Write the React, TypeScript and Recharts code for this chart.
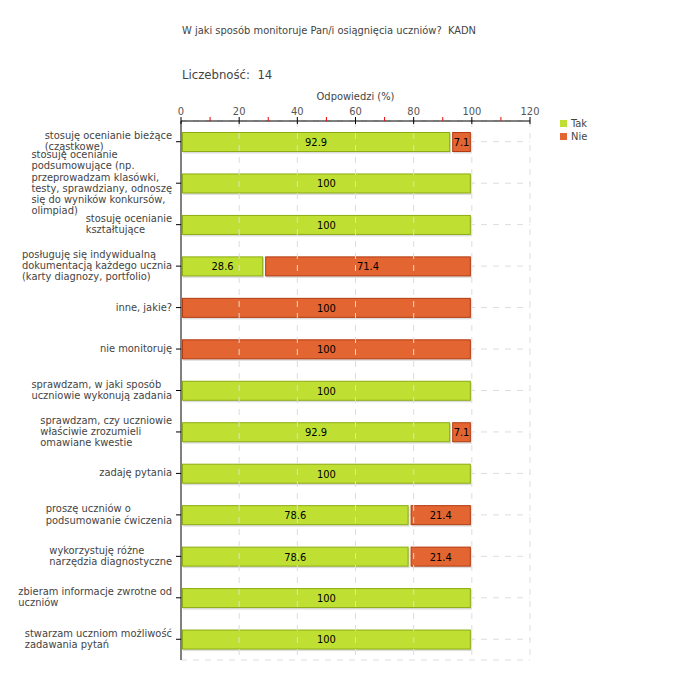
import { BarChart, Bar, XAxis, YAxis, CartesianGrid, ReferenceLine, LabelList } from "recharts";

const categories = [
  "stosuję ocenianie bieżące\n(cząstkowe)",
  "stosuję ocenianie\npodsumowujące (np.\nprzeprowadzam klasówki,\ntesty, sprawdziany, odnoszę\nsię do wyników konkursów,\nolimpiad)",
  "stosuję ocenianie\nkształtujące",
  "posługuję się indywidualną\ndokumentacją każdego ucznia\n(karty diagnozy, portfolio)",
  "inne, jakie?",
  "nie monitoruję",
  "sprawdzam, w jaki sposób\nuczniowie wykonują zadania",
  "sprawdzam, czy uczniowie\nwłaściwie zrozumieli\nomawiane kwestie",
  "zadaję pytania",
  "proszę uczniów o\npodsumowanie ćwiczenia",
  "wykorzystuję różne\nnarzędzia diagnostyczne",
  "zbieram informacje zwrotne od\nuczniów",
  "stwarzam uczniom możliwość\nzadawania pytań",
];
const tak = [92.9, 100, 100, 28.6, 0, 0, 100, 92.9, 100, 78.6, 78.6, 100, 100];
const nie = [7.1, 0, 0, 71.4, 100, 100, 0, 7.1, 0, 21.4, 21.4, 0, 0];
const allTicks = [0, 10, 20, 30, 40, 50, 60, 70, 80, 90, 100, 110, 120];
const gridTicks = [20, 40, 60, 80, 100, 120];

const data = categories.map((c, i) => ({ name: c, tak: tak[i], nie: nie[i] }));

const FONT = "'DejaVu Sans Condensed', 'DejaVu Sans', sans-serif";
const TAK = "#bfe033";
const TAK_EDGE = "#8cab12";
const NIE = "#e36531";
const NIE_EDGE = "#b23a10";

let ctx: CanvasRenderingContext2D | null = null;
const measure = (s: string) => {
  if (!ctx) ctx = document.createElement("canvas").getContext("2d");
  if (!ctx) return s.length * 5.6;
  ctx.font = `11px ${FONT}`;
  return ctx.measureText(s).width;
};

const CategoryTick = (props: any) => {
  const { x, y, payload } = props;
  const lines: string[] = String(payload.value).split("\n");
  const w = Math.max(...lines.map(measure));
  const lh = 11.3;
  const startY = y - ((lines.length - 1) * lh) / 2 + 3;
  return (
    <text x={x - 2 - w} y={startY} fill="#444" fontSize={11} fontFamily={FONT} textAnchor="start">
      {lines.map((l, i) => (
        <tspan key={i} x={x - 2 - w} y={startY + i * lh}>
          {l}
        </tspan>
      ))}
    </text>
  );
};

// top axis: black majors with labels, red minors in between
const ValueTick = (props: any) => {
  const { x, y, payload } = props;
  const major = payload.value % 20 === 0;
  return (
    <g>
      <line x1={x} x2={x} y1={y + 4} y2={major ? y + 11 : y + 8} stroke={major ? "#000" : "#e00"} />
      {major && (
        <text x={x} y={y + 2} fill="#555" fontSize={11} fontFamily={FONT} textAnchor="middle">
          {payload.value}
        </text>
      )}
    </g>
  );
};

const makeShape = (fill: string, edge: string) => (props: any) => {
  const { x, y, width, height } = props;
  if (!width || width <= 0) return <g />;
  return (
    <g>
      <rect x={x + 2} y={y + 1.5} width={width - 2} height={height} fill="#ddd" />
      <rect x={x + 1.5} y={y + 0.5} width={width - 3} height={height - 1} fill={fill} stroke={edge} />
    </g>
  );
};

const fmt = (v: any) => (Number(v) > 0 ? String(v) : "");

export default function App() {
  return (
    <div style={{ position: "absolute", left: 0, top: 0, width: 680, height: 680, background: "#fff", fontFamily: FONT }}>
      <div style={{ position: "absolute", left: 182, top: 24, fontSize: 11, color: "#444" }}>
        W jaki sposób monitoruje Pan/i osiągnięcia uczniów?&nbsp; KADN
      </div>
      <div style={{ position: "absolute", left: 182, top: 67, fontSize: 13, color: "#444" }}>Liczebność:&nbsp; 14</div>
      <div style={{ position: "absolute", left: 181, width: 349, top: 90, fontSize: 11, color: "#444", textAlign: "center" }}>
        Odpowiedzi (%)
      </div>
      <div style={{ position: "absolute", left: 560, top: 117, fontSize: 11, color: "#444", lineHeight: "13px" }}>
        <div>
          <span style={{ display: "inline-block", width: 7, height: 7, background: TAK, marginRight: 4 }} />
          Tak
        </div>
        <div>
          <span style={{ display: "inline-block", width: 7, height: 7, background: NIE, marginRight: 4 }} />
          Nie
        </div>
      </div>
      <div style={{ position: "absolute", left: 0, top: 0 }}>
        <BarChart
          width={680}
          height={680}
          data={data}
          layout="vertical"
          margin={{ top: 91, right: 150, bottom: 20, left: 0 }}
          barSize={20}
        >
          <CartesianGrid vertical={false} stroke="#ddd" strokeDasharray="6 6" />
          {gridTicks.map((t) => (
            <ReferenceLine key={t} x={t} stroke="#ddd" strokeDasharray="6 6" />
          ))}
          <XAxis
            type="number"
            orientation="top"
            domain={[0, 120]}
            ticks={allTicks}
            interval={0}
            height={30}
            tick={<ValueTick />}
            tickLine={false}
            axisLine={{ stroke: "#000" }}
          />
          <YAxis
            type="category"
            dataKey="name"
            width={181}
            interval={0}
            tick={<CategoryTick />}
            tickSize={5}
            tickLine={{ stroke: "#000" }}
            axisLine={{ stroke: "#000" }}
          />
          <Bar dataKey="tak" stackId="a" isAnimationActive={false} shape={makeShape(TAK, TAK_EDGE)}>
            <LabelList dataKey="tak" position="center" formatter={fmt} fill="#000" fontSize={11} fontFamily={FONT} />
          </Bar>
          <Bar dataKey="nie" stackId="a" isAnimationActive={false} shape={makeShape(NIE, NIE_EDGE)}>
            <LabelList dataKey="nie" position="center" formatter={fmt} fill="#000" fontSize={11} fontFamily={FONT} />
          </Bar>
        </BarChart>
      </div>
    </div>
  );
}
